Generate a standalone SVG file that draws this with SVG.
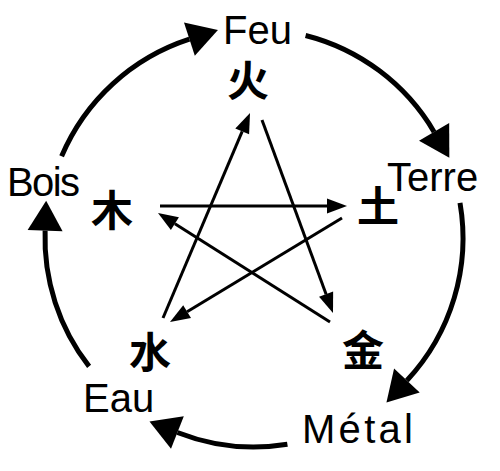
<svg xmlns="http://www.w3.org/2000/svg" width="500" height="471" viewBox="0 0 500 471">
<style>
.lbl{font-family:"Liberation Sans",Arial,sans-serif;font-size:40px;fill:#000}
.cjk{font-family:"Noto Sans CJK SC","Noto Sans CJK JP",sans-serif;font-size:42px;font-weight:bold;fill:#000;text-anchor:middle}
.arc{fill:none;stroke:#000;stroke-width:5;marker-end:url(#big)}
.star{fill:none;stroke:#000;stroke-width:3;marker-end:url(#small)}
</style>
<defs>
<marker id="big" markerUnits="userSpaceOnUse" orient="auto" refX="0" refY="0" markerWidth="40" markerHeight="40" viewBox="-2 -20 36 40" overflow="visible">
<path d="M0,-17.5 L30,0 L0,17.5 z" fill="#000"/>
</marker>
<marker id="small" markerUnits="userSpaceOnUse" orient="auto" refX="0" refY="0" markerWidth="24" markerHeight="18" viewBox="-2 -9 24 18" overflow="visible">
<path d="M0,-7.5 L20,0 L0,7.5 z" fill="#000"/>
</marker>
</defs>
<rect width="500" height="471" fill="#fff"/>
<g id="connectors">
<path class="arc" d="M61.6,156.3 A209,209 0 0 1 189.4,39.2"/>
<path class="arc" d="M305.6,35.5 A209,209 0 0 1 434.1,131.9"/>
<path class="arc" d="M460,202.8 A209,209 0 0 1 406.9,380.5"/>
<path class="arc" d="M287.4,444.3 A209,209 0 0 1 177.4,432.5"/>
<path class="arc" d="M89.1,366.4 A209,209 0 0 1 45.1,230.7"/>
<path class="star" d="M163,318 L242.2,131.4"/>
<path class="star" d="M262,120 L326.1,294.2"/>
<path class="star" d="M160,206 L327,206"/>
<path class="star" d="M342,218 L187.1,311.7"/>
<path class="star" d="M330,322 L174.9,223.7"/>
</g>
<g id="feu"><text class="lbl" x="223" y="44">Feu</text><text class="cjk" x="248" y="96">火</text></g>
<g id="terre"><text class="lbl" x="387" y="191">Terre</text><text class="cjk" x="378" y="222">土</text></g>
<g id="metal"><text class="lbl" x="302" y="443" textLength="111">Métal</text><text class="cjk" x="363" y="366">金</text></g>
<g id="eau"><text class="lbl" x="83" y="412">Eau</text><text class="cjk" x="150" y="368">水</text></g>
<g id="bois"><text class="lbl" x="7" y="196" textLength="73">Bois</text><text class="cjk" x="112" y="226">木</text></g>
</svg>
